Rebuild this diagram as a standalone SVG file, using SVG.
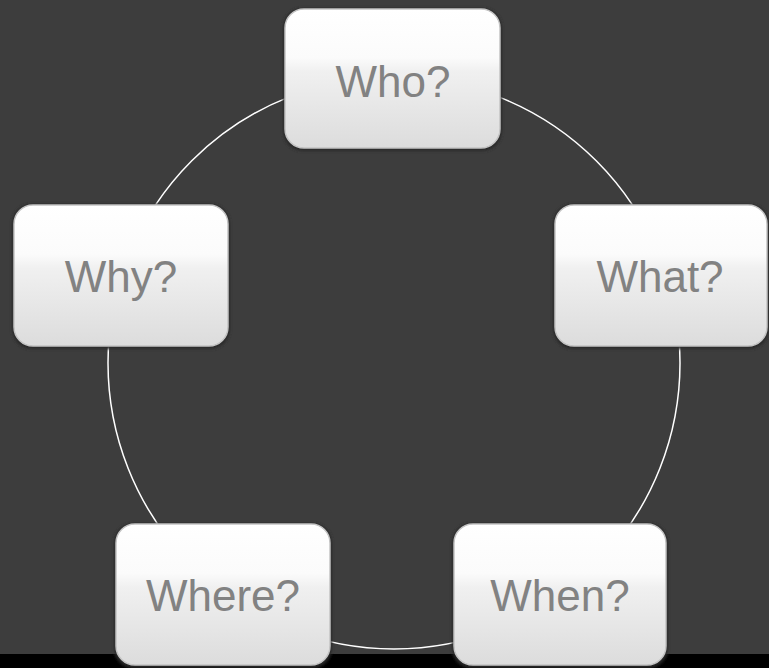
<svg xmlns="http://www.w3.org/2000/svg" width="769" height="668" viewBox="0 0 769 668">
<defs>
<linearGradient id="g" x1="0" y1="0" x2="0" y2="1">
<stop offset="0" stop-color="#ffffff"/>
<stop offset="0.35" stop-color="#fbfbfb"/>
<stop offset="0.45" stop-color="#f0f0f0"/>
<stop offset="1" stop-color="#dcdcdc"/>
</linearGradient>
<filter id="sh" x="-10%" y="-10%" width="120%" height="120%">
<feGaussianBlur stdDeviation="1.5"/>
</filter>
<style>
.edge{fill:#2a2a2a;filter:url(#sh)}
.box{fill:url(#g);stroke:#c4c4c4;stroke-width:1.5}
.lbl{font-family:"Liberation Sans",Arial,sans-serif;font-size:44px;fill:#828282;text-anchor:middle}
.ring{fill:none;stroke:#ffffff;stroke-width:1.5}
</style>
</defs>
<rect width="769" height="668" fill="#3d3d3d"/>
<rect y="654" width="769" height="14" fill="#000000"/>
<g id="connectors">
<circle class="ring" cx="394" cy="363" r="286"/>
</g>
<g id="who">
<rect class="edge" x="283" y="8" width="219" height="143" rx="20"/>
<rect class="box" x="285" y="9" width="215" height="139" rx="19"/>
<text class="lbl" x="393" y="97">Who?</text>
</g>
<g id="why">
<rect class="edge" x="12" y="204" width="218" height="145" rx="20"/>
<rect class="box" x="14" y="205" width="214" height="141" rx="19"/>
<text class="lbl" x="121" y="292">Why?</text>
</g>
<g id="what">
<rect class="edge" x="553" y="204" width="216" height="145" rx="20"/>
<rect class="box" x="555" y="205" width="212" height="141" rx="19"/>
<text class="lbl" x="660" y="292">What?</text>
</g>
<g id="where">
<rect class="edge" x="114" y="523" width="218" height="145" rx="20"/>
<rect class="box" x="116" y="524" width="214" height="141" rx="19"/>
<text class="lbl" x="223" y="611">Where?</text>
</g>
<g id="when">
<rect class="edge" x="452" y="523" width="216" height="145" rx="20"/>
<rect class="box" x="454" y="524" width="212" height="141" rx="19"/>
<text class="lbl" x="560" y="611">When?</text>
</g>
</svg>
